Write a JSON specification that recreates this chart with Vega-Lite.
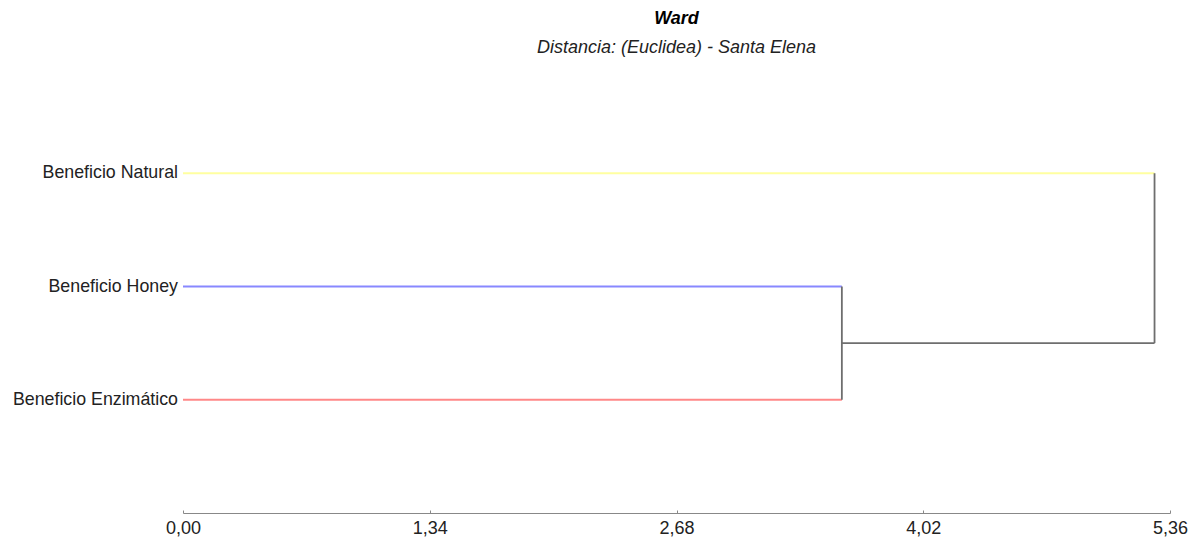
{
  "$schema": "https://vega.github.io/schema/vega-lite/v6.json",
  "width": 987,
  "height": 453,
  "autosize": {"type": "none"},
  "padding": {"left": 183, "top": 60, "right": 28, "bottom": 26},
  "background": "white",
  "config": {"view": {"stroke": null}, "font": "Liberation Sans"},
  "title": {
    "text": "Ward",
    "subtitle": "Distancia: (Euclidea) - Santa Elena",
    "anchor": "middle",
    "font": "Liberation Sans",
    "fontSize": 18,
    "fontWeight": "bold",
    "fontStyle": "italic",
    "color": "#000000",
    "subtitleFont": "Liberation Sans",
    "subtitleFontSize": 18,
    "subtitleFontStyle": "italic",
    "subtitleColor": "#222222",
    "subtitlePadding": 11,
    "offset": 3
  },
  "datasets": {
    "segments": [
      {"seg": "Natural", "x": 0, "x2": 5.276, "y": 3, "y2": 3},
      {"seg": "Honey", "x": 0, "x2": 3.578, "y": 2, "y2": 2},
      {"seg": "Enzimatico", "x": 0, "x2": 3.578, "y": 1, "y2": 1},
      {"seg": "link", "x": 3.578, "x2": 3.578, "y": 1, "y2": 2},
      {"seg": "link", "x": 3.578, "x2": 5.276, "y": 1.5, "y2": 1.5},
      {"seg": "link", "x": 5.276, "x2": 5.276, "y": 1.5, "y2": 3}
    ],
    "leaves": [
      {"label": "Beneficio Natural", "x": 0, "y": 3},
      {"label": "Beneficio Honey", "x": 0, "y": 2},
      {"label": "Beneficio Enzimático", "x": 0, "y": 1}
    ]
  },
  "layer": [
    {
      "data": {"name": "segments"},
      "mark": {"type": "rule", "strokeWidth": 1.8},
      "encoding": {
        "x": {
          "field": "x",
          "type": "quantitative",
          "scale": {"domain": [0, 5.36], "nice": false, "zero": false},
          "axis": {
            "title": null,
            "values": [0, 1.34, 2.68, 4.02, 5.36],
            "labelExpr": "replace(format(datum.value, '.2f'), '.', ',')",
            "labelFont": "Liberation Sans",
            "labelFontSize": 18,
            "labelColor": "#222222",
            "domainColor": "#888888",
            "tickColor": "#888888",
            "tickSize": -3,
            "labelPadding": 9,
            "grid": false,
            "labelFlush": false,
            "labelOverlap": false
          }
        },
        "x2": {"field": "x2"},
        "y": {
          "field": "y",
          "type": "quantitative",
          "scale": {"domain": [0, 4], "nice": false, "zero": false},
          "axis": null
        },
        "y2": {"field": "y2"},
        "color": {
          "field": "seg",
          "type": "nominal",
          "scale": {
            "domain": ["Natural", "Honey", "Enzimatico", "link"],
            "range": ["#ffffa0", "#8888ff", "#ff8888", "#6e6e6e"]
          },
          "legend": null
        }
      }
    },
    {
      "data": {"name": "leaves"},
      "mark": {"type": "text", "align": "right", "baseline": "middle", "dx": -5, "fontSize": 17.8, "font": "Liberation Sans", "color": "#222222"},
      "encoding": {
        "x": {"field": "x", "type": "quantitative"},
        "y": {"field": "y", "type": "quantitative"},
        "text": {"field": "label"}
      }
    }
  ]
}
